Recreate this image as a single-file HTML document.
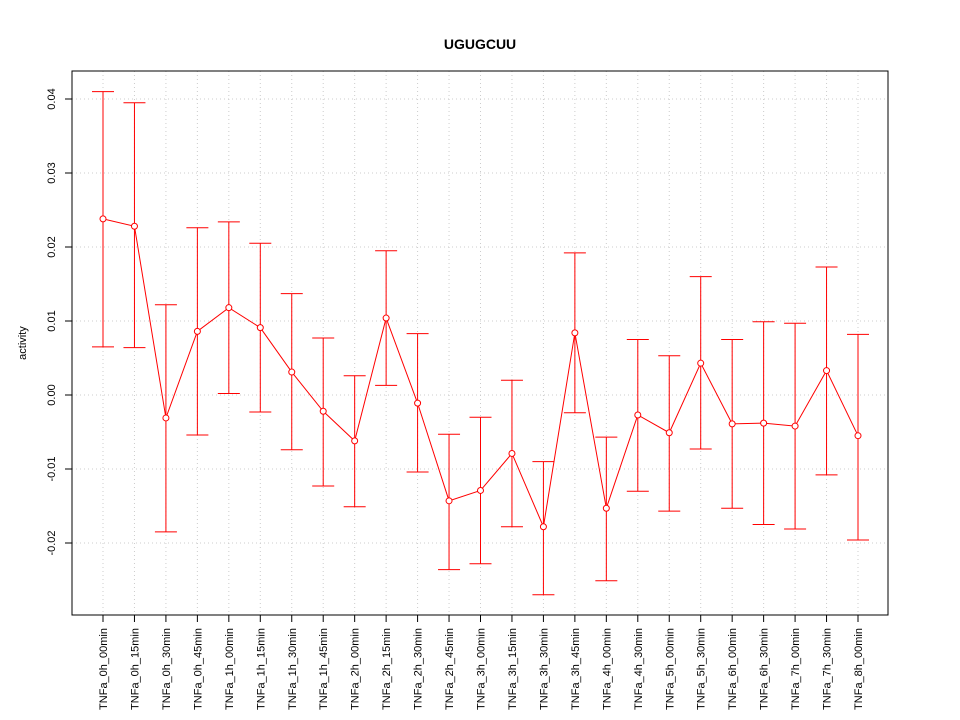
<!DOCTYPE html>
<html><head><meta charset="utf-8"><style>body{margin:0;background:#fff}svg{display:block;font-family:"Liberation Sans",Arial,sans-serif}</style></head>
<body>
<svg id="chart" width="960" height="720" xmlns="http://www.w3.org/2000/svg">
<rect width="960" height="720" fill="#fff"/>
<text x="480" y="49" text-anchor="middle" font-size="14" font-weight="bold">UGUGCUU</text>
<text transform="translate(26,343) rotate(-90)" text-anchor="middle" font-size="11">activity</text>
<g id="grid"></g><g id="axes"></g><g id="marks"></g>
<rect x="72" y="71" width="816" height="544" fill="none" stroke="#000"/>
</svg>
<script>
const categories=["TNFa_0h_00min","TNFa_0h_15min","TNFa_0h_30min","TNFa_0h_45min","TNFa_1h_00min","TNFa_1h_15min","TNFa_1h_30min","TNFa_1h_45min","TNFa_2h_00min","TNFa_2h_15min","TNFa_2h_30min","TNFa_2h_45min","TNFa_3h_00min","TNFa_3h_15min","TNFa_3h_30min","TNFa_3h_45min","TNFa_4h_00min","TNFa_4h_30min","TNFa_5h_00min","TNFa_5h_30min","TNFa_6h_00min","TNFa_6h_30min","TNFa_7h_00min","TNFa_7h_30min","TNFa_8h_00min"];
const means=[0.0238,0.0228,-0.0031,0.0086,0.0118,0.0091,0.0031,-0.0022,-0.0062,0.0104,-0.0011,-0.0143,-0.0129,-0.0079,-0.0178,0.0084,-0.0153,-0.0027,-0.0051,0.0043,-0.0039,-0.0038,-0.0042,0.0033,-0.0055];
const uppers=[0.041,0.0395,0.0122,0.0226,0.0234,0.0205,0.0137,0.0077,0.0026,0.0195,0.0083,-0.0053,-0.003,0.002,-0.009,0.0192,-0.0057,0.0075,0.0053,0.016,0.0075,0.0099,0.0097,0.0173,0.0082];
const lowers=[0.0065,0.0064,-0.0185,-0.0054,0.0002,-0.0023,-0.0074,-0.0123,-0.0151,0.0013,-0.0104,-0.0236,-0.0228,-0.0178,-0.027,-0.0024,-0.0251,-0.013,-0.0157,-0.0073,-0.0153,-0.0175,-0.0181,-0.0108,-0.0196];
const yTicks=[-0.02,-0.01,0,0.01,0.02,0.03,0.04];
const yTickLabels=["-0.02","-0.01","0.00","0.01","0.02","0.03","0.04"];
const NS="http://www.w3.org/2000/svg";
function y(v){return 395-v*7400;}
function x(i){return 103+i*(858-103)/(categories.length-1);}
function mk(tag,attrs,parent){const e=document.createElementNS(NS,tag);for(const k in attrs)e.setAttribute(k,attrs[k]);document.getElementById(parent).appendChild(e);return e;}
yTicks.forEach((t,i)=>{
 const g=mk('line',{x1:72,x2:888,y1:y(t),y2:y(t),stroke:'#ccc','stroke-dasharray':'1,3'},'grid');
 
 
 const tk=mk('line',{x1:65,x2:72,y1:y(t),y2:y(t),stroke:'#000'},'axes');
 
 
 const lb=mk('text',{transform:`translate(55,${y(t)}) rotate(-90)`,'text-anchor':'middle','font-size':11},'axes');
 lb.textContent=yTickLabels[i];
 
 
});
categories.forEach((c,i)=>{
 const g=mk('line',{x1:x(i),x2:x(i),y1:71,y2:615,stroke:'#ccc','stroke-dasharray':'1,3'},'grid');
 
 
 const tk=mk('line',{x1:x(i),x2:x(i),y1:615,y2:622,stroke:'#000'},'axes');
 
 
 const lb=mk('text',{transform:`translate(${x(i)+4},628) rotate(-90)`,'text-anchor':'end','font-size':11},'axes');
 lb.textContent=c;
 
 
});
let d=means.map((m,i)=>(i?'L':'M')+x(i)+','+y(m)).join(' ');
const ln=mk('path',{d:d,fill:'none',stroke:'#f00'},'marks');


means.forEach((m,i)=>{
 const eb=mk('path',{d:`M${x(i)},${y(uppers[i])}V${y(lowers[i])}M${x(i)-11},${y(uppers[i])}H${x(i)+11}M${x(i)-11},${y(lowers[i])}H${x(i)+11}`,stroke:'#f00',fill:'none'},'marks');
 
 
 const p=mk('circle',{cx:x(i),cy:y(m),r:3,fill:'#fff',stroke:'#f00'},'marks');
 
 
});
</script>
</body></html>
